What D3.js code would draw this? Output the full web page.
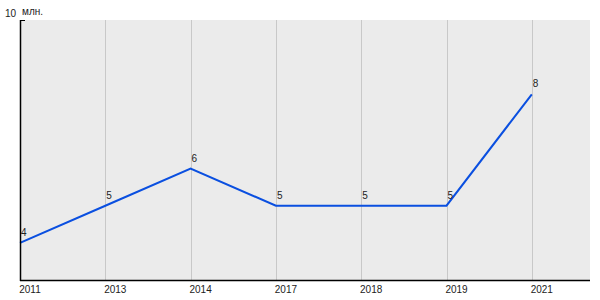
<!DOCTYPE html>
<html>
<head>
<meta charset="utf-8">
<script src="https://cdn.jsdelivr.net/npm/d3@7"></script>
<style>
body{margin:0;background:#fff;}
text{font-family:"Liberation Sans",Arial,sans-serif;font-size:10px;fill:#222;}
</style>
</head>
<body>
<script>
// data
var years=["2011","2013","2014","2017","2018","2019","2021"];
var values=[4,5,6,5,5,5,8];
var yMin=3, yMax=10;
var unitLabel="млн.";

var W=600,H=300;
var mLeft=20,mRight=590,mTop=20,mBottom=280;

var svg=d3.select('body').append('svg')
    .attr('width',W)
    .attr('height',H);

var x=d3.scalePoint()
    .domain(years)
    .range([mLeft,mLeft+6*85.3]);
var y=d3.scaleLinear()
    .domain([yMin,yMax])
    .range([mBottom,mTop]);

// plot background
svg.append("rect")
    .attr("x",mLeft).attr("y",mTop)
    .attr("width",mRight-mLeft).attr("height",mBottom-mTop)
    .attr("fill","#ebebeb");

// vertical grid
svg.selectAll(".grid").data(years.slice(1)).enter().append("line")
    .attr("x1",function(d){return Math.round(x(d))+0.5})
    .attr("x2",function(d){return Math.round(x(d))+0.5})
    .attr("y1",mTop).attr("y2",mBottom)
    .attr("stroke","#c8c8c8")
    .attr("stroke-width",1);

// line
var line=d3.line()
    .x(function(d,i){return x(years[i])})
    .y(function(d){return y(d)});

svg.append("path").attr("d",line(values))
    .attr("fill","none")
    .attr("stroke","#0a4fe0")
    .attr("stroke-width",2);

// point labels
svg.selectAll(".lbl").data(values).enter().append("text")
    .attr("x",function(d,i){return x(years[i])+1})
    .attr("y",function(d){return y(d)-7})
    .text(function(d){return d});

// axes lines
svg.append("line")
    .attr("x1",mLeft+0.5).attr("x2",mLeft+0.5)
    .attr("y1",mTop).attr("y2",mBottom+1)
    .attr("stroke","#000").attr("stroke-width",1.5);
svg.append("line")
    .attr("x1",mLeft).attr("x2",mRight)
    .attr("y1",mBottom+0.5).attr("y2",mBottom+0.5)
    .attr("stroke","#000").attr("stroke-width",1.5);
// top tick
svg.append("line")
    .attr("x1",mLeft).attr("x2",mLeft+5)
    .attr("y1",mTop+0.5).attr("y2",mTop+0.5)
    .attr("stroke","#000").attr("stroke-width",1);

// y labels
svg.append("text")
    .attr("x",mLeft-4).attr("y",y(yMax)-3)
    .attr("text-anchor","end")
    .text(yMax);
svg.append("text")
    .attr("x",mLeft+2).attr("y",y(yMax)-5)
    .text(unitLabel);

// x labels
svg.selectAll(".xl").data(years).enter().append("text")
    .attr("x",function(d){return x(d)+10})
    .attr("y",mBottom+13)
    .attr("text-anchor","middle")
    .text(function(d){return d});
</script>
</body>
</html>
